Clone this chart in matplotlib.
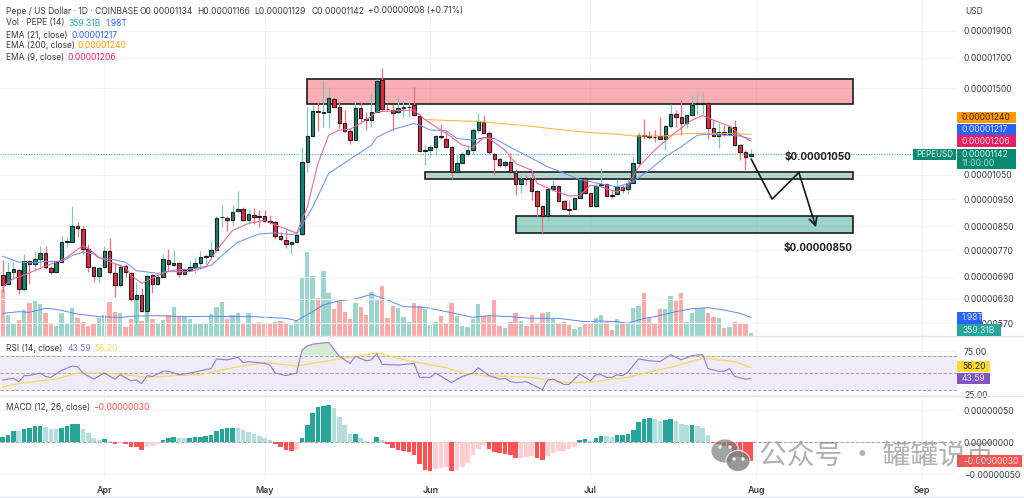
import matplotlib
matplotlib.use('Agg')
import numpy as np
import matplotlib.pyplot as plt
from matplotlib.patches import Rectangle, Ellipse

plt.rcParams['font.family'] = ['Inter', 'DejaVu Sans']

# prices are in units of 0.00000001 USD, one row per day from Mar 13
opens = [694,669,703,710,656,736,726,743,760,715,703,732,796,798,850,840,775,718,692,718,769,701,668,721,701,631,641,600,695,670,691,740,724,731,698,710,720,731,750,751,771,881,880,872,903,913,871,891,886,885,870,865,815,804,790,796,822,1108,1234,1365,1356,1360,1437,1388,1301,1258,1214,1382,1323,1318,1360,1548,1378,1372,1358,1380,1385,1399,1340,1159,1162,1178,1232,1219,1178,1063,1103,1146,1165,1265,1306,1246,1146,1119,1092,1108,1059,1011,1033,1030,981,925,885,991,1001,944,913,914,956,1037,973,922,1006,1010,966,969,999,989,1016,1100,1238,1232,1228,1230,1217,1283,1351,1333,1297,1342,1407,1407,1411,1271,1233,1252,1240,1276,1188,1151,1134]
highs = [740,733,735,712,758,738,769,782,785,723,738,815,813,923,866,850,790,723,718,785,809,731,728,728,703,675,660,698,698,694,758,775,771,733,715,738,746,769,758,801,888,926,888,928,981,919,913,915,910,907,889,870,829,835,801,829,1175,1389,1399,1417,1545,1508,1441,1417,1370,1271,1417,1417,1360,1461,1554,1626,1407,1399,1447,1431,1417,1508,1351,1186,1186,1236,1292,1262,1182,1146,1154,1186,1271,1356,1342,1256,1149,1124,1115,1149,1074,1048,1048,1056,985,926,992,1027,1006,945,945,959,1045,1041,975,1016,1078,1014,985,1030,1006,1034,1131,1253,1323,1258,1265,1333,1288,1403,1370,1431,1344,1458,1463,1471,1417,1315,1297,1288,1288,1315,1194,1162,1166]
lows = [648,666,680,644,652,671,709,718,712,698,700,730,780,796,813,758,703,675,675,715,698,636,662,689,626,568,597,576,646,666,689,708,723,689,694,708,700,712,728,748,764,846,833,852,901,870,856,858,846,864,858,807,801,777,758,793,821,1063,1232,1256,1279,1271,1385,1271,1253,1194,1211,1297,1262,1279,1358,1372,1372,1258,1351,1333,1333,1336,1154,1092,1131,1138,1219,1175,1034,1060,1100,1134,1143,1246,1242,1146,1048,1085,1078,1056,965,975,1006,945,888,827,865,985,939,909,891,912,954,970,919,919,999,962,956,965,973,970,1014,1088,1219,1219,1203,1216,1162,1271,1279,1236,1271,1336,1342,1351,1219,1232,1170,1232,1232,1184,1115,1070,1129]
closes = [666,703,712,656,736,726,742,762,718,703,732,796,800,850,843,775,718,692,715,768,703,668,720,703,631,641,600,693,670,691,742,726,731,698,710,720,731,748,752,771,878,883,871,902,913,873,894,881,882,870,865,815,805,790,798,821,1108,1234,1366,1359,1360,1441,1389,1301,1258,1214,1382,1327,1315,1360,1545,1378,1375,1356,1380,1385,1389,1342,1160,1162,1176,1232,1225,1178,1063,1103,1146,1165,1262,1309,1245,1151,1122,1094,1108,1060,1011,1031,1030,982,925,885,989,1001,944,913,910,953,1036,973,922,1002,1010,964,963,999,987,1016,1100,1238,1233,1225,1225,1219,1281,1351,1333,1297,1342,1401,1411,1411,1271,1233,1252,1241,1276,1188,1151,1131,1142]
# volume in billions
volumes = [4956,2195,1345,1699,2761,3540,3717,3363,2407,1239,1097,2407,1416,2938,1876,1522,1097,1239,1876,2230,3646,2549,2407,991,1770,4000,1593,3115,1770,1416,1699,2230,3044,1982,2053,1770,1274,1274,1345,2336,3044,3646,1805,2230,2407,1345,2407,1416,1522,1345,1416,1522,1593,1345,1168,1628,6195,8885,6372,4000,6938,4531,2867,3752,2584,1770,3540,3044,2266,4637,3929,5310,1947,3186,2938,1982,1451,3469,3221,2867,1168,1451,2124,1345,3469,2124,1062,991,1805,3434,2124,2159,3823,1062,814,1522,2407,1628,1097,2230,1345,2407,2513,1770,1274,1451,1168,743,991,1239,1239,1876,2230,1522,637,1770,1345,1345,3009,3221,4531,1876,1345,2832,2832,4248,3752,4531,1522,2407,2832,2938,2478,2053,1876,885,991,1522,1239,1239,359]

ema21_days = [0,3,6,8,11,13,15,17,18,21,23,25,29,32,35,39,41,44,48,51,54,55,58,61,65,69,70,73,77,78,80,83,85,88,90,92,96,99,102,104,108,112,115,118,121,124,127,130,132,135,138,140]
ema21 = [751,733,731,735,735,753,764,758,746,740,733,708,700,709,712,723,753,796,823,827,821,823,919,1056,1119,1186,1225,1265,1297,1288,1262,1258,1219,1211,1223,1219,1162,1124,1085,1067,1030,1011,999,1021,1070,1131,1178,1236,1241,1236,1232,1217]
ema9_days = [0,2,3,6,8,10,12,15,16,18,21,23,24,26,29,31,35,38,40,43,46,49,53,55,57,59,61,63,65,68,70,73,77,79,82,83,86,88,90,91,94,96,99,100,103,106,108,110,112,115,117,119,122,126,129,131,133,136,138,140]
ema9 = [662,686,689,708,721,733,748,785,775,748,728,718,694,672,694,705,705,718,769,835,860,870,840,826,919,1100,1236,1262,1266,1315,1360,1366,1370,1318,1262,1246,1186,1175,1225,1219,1162,1100,1070,1014,985,962,965,1006,999,978,1006,1085,1162,1253,1315,1340,1315,1283,1236,1206]
ema200_days = [79,84,89,93,98,104,110,115,118,124,127,132,137,140]
ema200 = [1318,1312,1308,1297,1285,1265,1249,1241,1232,1232,1243,1246,1243,1240]
vol_ma_days = [0,3,5,8,10,14,18,22,25,29,34,39,47,53,55,58,60,63,66,69,72,75,79,83,88,91,95,99,104,109,112,115,117,120,122,126,129,132,135,138,140]
vol_ma = [2407,2584,2513,2938,2832,2336,2053,1982,2124,2159,2053,2089,2053,1876,1628,2584,3292,3752,3929,4425,3823,3115,3044,2584,1982,2159,2053,1876,1876,1522,1593,1522,1345,1876,2053,2584,2903,3009,2761,2407,1980]

rsi_days = [0,1,2,3,4,5,7,8,9,11,13,14,15,17,19,21,22,24,25,26,27,28,30,31,33,36,38,39,40,42,44,45,46,49,50,51,53,55,56,57,58,61,63,65,66,68,69,70,71,74,77,78,80,81,84,86,88,89,91,93,94,95,96,98,100,101,102,103,105,106,108,110,111,112,113,114,115,116,117,119,121,123,125,127,129,131,132,134,135,136,137,139,140]
rsi = [42,43,44,40,47,47,50,46,45,53,58,57,50,43,50,43,48,41,42,38,47,46,52,52,48,51,54,55,66,65,68,62,63,61,59,50,47,50,76,81,83,85,69,61,69,64,65,72,60,59,61,45,45,50,39,46,50,56,47,43,44,40,39,40,34,31,42,43,37,37,49,41,48,48,45,45,48,47,51,66,64,63,71,65,70,71,55,52,52,55,46,43,43.59]
rsi_ma_days = [0,3,10,14,19,23,27,32,37,43,49,55,60,65,70,76,83,86,90,95,99,104,107,111,114,117,121,126,131,137,140]
rsi_ma = [34,38,43,50,50,48,45,47,48,56,62,58,63,68,73,64,56,50,47,46,45,40,39,40,43,45,51,58,67,63,56.2]

macd_hist = [8,11,18,17,21,23,25,26,24,21,20,23,25,28,28.5,20,15,7,4,5,2,-3,-1,-2,-7,-8,-12,-7,-6,-2,3,6,8,7,6.8,7.2,7.5,9,10,11,18,21,22,23,22,19,16,13,10,6,3,-3,-7,-12,-13,-12,7,27,46,55,56,58,54,40,27,13,13.5,7,2,0.5,9,3,-2,-9,-12,-14,-15,-20,-34,-43,-45,-41,-40,-39,-45,-43,-39,-32,-20,-10,-5,-10,-15,-17,-19,-20,-24.5,-24,-23,-22,-25,-28,-21,-16,-14,-13,-11,-7,3,5,2,7,10,9.5,9,11,11.5,13,19,31,36,38,36,34,34.5,36,34,29,27,27.5,26,23,11,-1,-2,-6,-9,-17,-23,-26,-30]

price_ticks = [1900,1700,1500,1050,950,850,770,690,630,570]
month_days = [19,49,80,110,141,172]
month_names = ['Apr','May','Jun','Jul','Aug','Sep']
last_price = 1142

W, H = 1024, 498
AXIS_X = 957
GREEN = '#0b8a72'
RED = '#e9283f'
TEXT = '#3a3d45'


def pane(top, bottom, **kw):
    return fig.add_axes([0, 1 - bottom / H, AXIS_X / W, (bottom - top) / H], **kw)


def label(x, y, s, color=TEXT, size=6.1, **kw):
    fig.text(x / W, 1 - y / H, s, color=color, fontsize=size, va='center', zorder=11, **kw)


def box(y, color, x0, x1, h):
    fig.add_artist(Rectangle((x0 / W, 1 - (y + h / 2) / H), (x1 - x0) / W, h / H, transform=fig.transFigure,
                             facecolor=color, edgecolor='none', zorder=10))


def tag(y, s, color, text_color='white', x1=1016, x0=AXIS_X, h=11.5):
    box(y, color, x0, x1, h)
    label(x0 + 5, y, s, color=text_color)


fig = plt.figure(figsize=(W / 100, H / 100), dpi=100)
days = np.arange(len(closes))
opens = np.array(opens, float)
closes = np.array(closes, float)
up = closes >= opens
xlim = (-0.516, 178.6)

# volume sits behind the candles
ax_vol = pane(0, 336)
ax_vol.set_zorder(0)
ax_vol.bar(days, volumes, width=0.82, color=['#9bd5cb' if u else '#f9aaa9' for u in up])
ax_vol.plot(vol_ma_days, vol_ma, color='#5b86f5', lw=0.7)
ax_vol.set_xlim(xlim)
ax_vol.set_ylim(0, 35683)
ax_vol.axis('off')

ax = pane(0, 336)
ax.set_zorder(1)
ax.patch.set_visible(False)
ax.set_yscale('log')
ax.set_xlim(xlim)
ax.set_ylim(541, 2155)
ax.yaxis.tick_right()
ax.set_yticks(price_ticks)
ax.set_yticklabels(['%.8f' % (p / 1e8) for p in price_ticks])
ax.minorticks_off()
ax.set_xticks(month_days)
ax.set_xticklabels([])

# supply / demand boxes
for x0, x1, p0, p1, col in [(56.9, 159.1, 1404, 1557, (0.95, 0.2, 0.27, 0.4)),
                            (79, 159.1, 1032, 1060, (0.1, 0.55, 0.45, 0.33)),
                            (96, 159.1, 827, 886, (0.1, 0.6, 0.5, 0.43))]:
    ax.add_patch(Rectangle((x0, p0), x1 - x0, p1 - p0, facecolor=col, edgecolor='#1c1c1c', lw=1.2, zorder=1.5))

ax.axhline(last_price, color='#26a69a', ls=':', lw=0.7, zorder=1)
ax.vlines(days, lows, highs, colors=['#7cc8bb' if u else '#f06e7c' for u in up], lw=0.9, zorder=2)
ax.bar(days, np.abs(closes - opens), bottom=np.minimum(opens, closes), width=0.66,
       color=[GREEN if u else RED for u in up], edgecolor='#222222', lw=0.8, zorder=3)
ax.plot(ema200_days, ema200, color='#ffb13d', lw=0.75, zorder=4)
ax.plot(ema21_days, ema21, color='#6c93f6', lw=0.75, zorder=4)
ax.plot(ema9_days, ema9, color='#f2608f', lw=0.75, zorder=4)

# projected path
ax.plot([140.1, 144, 149], [1119, 950, 1060], color='#161616', lw=1.2, zorder=5)
ax.annotate('', xy=(152.2, 846), xytext=(149, 1060), zorder=5,
            arrowprops=dict(arrowstyle='->', color='#161616', lw=1.2, mutation_scale=14, shrinkA=0, shrinkB=0))
ax.text(818 / AXIS_X, 1 - 157 / 336, '$0.00001050', transform=ax.transAxes, ha='center', va='center',
        fontsize=7.1, fontweight='bold', color='#1c1c1c', zorder=6)
ax.text(818 / AXIS_X, 1 - 248 / 336, '$0.00000850', transform=ax.transAxes, ha='center', va='center',
        fontsize=7.1, fontweight='bold', color='#1c1c1c', zorder=6)

# RSI
ax_rsi = pane(336, 396)
ax_rsi.axhspan(30, 70, color='#efecf8', lw=0)
for lvl in [70, 50, 30]:
    ax_rsi.axhline(lvl, color='#a5a5aa', ls='--', lw=0.7)
ax_rsi.plot(rsi_ma_days, rsi_ma, color='#fbd85c', lw=0.9)
ax_rsi.plot(rsi_days, rsi, color='#9478d4', lw=0.8)
ax_rsi.fill_between(rsi_days, 70, rsi, where=np.array(rsi) >= 70, interpolate=True, color='#d3ecd3', lw=0)
ax_rsi.set_xlim(xlim)
ax_rsi.set_ylim(23.7, 92.3)
ax_rsi.yaxis.tick_right()
ax_rsi.set_yticks([75, 25])
ax_rsi.set_yticklabels(['75.00', '25.00'])
ax_rsi.set_xticks(month_days)
ax_rsi.set_xticklabels([])

# MACD histogram, shade follows whether the bar grew or shrank
ax_macd = pane(396, 478)
macd_colors = []
prev = 0
for v in macd_hist:
    if v >= 0:
        macd_colors.append('#26a69a' if v >= prev else '#b2dfdb')
    else:
        macd_colors.append('#ff5252' if v < prev else '#ffcdd2')
    prev = v
ax_macd.axhline(0, color='#a5a5aa', ls='--', lw=0.7, zorder=1)
ax_macd.bar(days, macd_hist, width=0.86, color=macd_colors, zorder=2)
ax_macd.set_xlim(xlim)
ax_macd.set_ylim(-55.8, 72.3)
ax_macd.yaxis.tick_right()
ax_macd.set_yticks([50, 0, -50])
ax_macd.set_yticklabels(['0.00000050', '0.00000000', '\u22120.00000050'])
ax_macd.set_xticks(month_days)
ax_macd.set_xticklabels(month_names, fontsize=6.4, fontweight='semibold', color=TEXT)

for a in (ax, ax_rsi, ax_macd):
    for s in a.spines.values():
        s.set_visible(False)
    a.grid(True, color='#f3f4f6', lw=0.8)
    a.set_axisbelow(True)
    a.tick_params(axis='both', length=0, labelsize=6.2, labelcolor=TEXT, pad=5)
ax_macd.tick_params(axis='x', pad=5.5, labelsize=6.4)

# pane separators
for y in [336, 396, 497]:
    fig.add_artist(plt.Line2D([0, 1], [1 - y / H] * 2, color='#e2e4e9', lw=1, zorder=5))

# legends
label(6, 11, 'Pepe / US Dollar \u00b7 1D \u00b7 COINBASE')
for x, s in zip([140, 197, 254, 311, 368],
                ['O0.00001134', 'H0.00001166', 'L0.00001129', 'C0.00001142', '+0.00000008 (+0.71%)']):
    label(x, 11, s)
label(6, 23, 'Vol \u00b7 PEPE (14)')
label(68, 23, '359.31B', color='#26a69a')
label(106, 23, '1.98T', color='#2962ff')
label(6, 35, 'EMA (21, close)')
label(71, 35, '0.00001217', color='#2962ff')
label(6, 46, 'EMA (200, close)')
label(78, 46, '0.00001240', color='#ff9800')
label(6, 58, 'EMA (9, close)')
label(68, 58, '0.00001206', color='#e91e63')
label(6, 348, 'RSI (14, close)')
label(67, 348, '43.59', color='#8e6fcf')
label(94, 348, '56.20', color='#fbd85c')
label(6, 407, 'MACD (12, 26, close)')
label(93, 407, '\u22120.00000030', color='#ff5252')
label(965, 11, 'USD')

# axis tags
tag(117.7, '0.00001240', '#ff9800', text_color='#2a2a2a')
tag(129.5, '0.00001217', '#2962ff', text_color='#dfe6ff')
tag(141, '0.00001206', '#e91e63', text_color='#ffdbe8')
box(159, GREEN, AXIS_X, 1016, 20)
label(962, 154.5, '0.00001142', color='#d8f2ec')
label(962, 164, '11:00:00', color='#a8dcd0')
box(154.5, GREEN, 913, 956, 11)
label(916, 154.5, 'PEPEUSD', color='#d8f2ec', size=5.8)
tag(318, '1.98T', '#2962ff', text_color='#dfe6ff', x1=982)
tag(330, '359.31B', '#26a69a', text_color='#e3f5f2', x1=1001)
tag(366.7, '56.20', '#fdd835', text_color='#2a2a2a', x1=990)
tag(378.5, '43.59', '#7e57c2', text_color='#ebe4fa', x1=990)
tag(461, '\u22120.00000030', '#ff5252', text_color='#ffe5e5', x1=1022)

# watermark
wm = '#7d7d7d'
for x, y, w, h, a in [(725, 451, 28, 24, 0.7), (738, 461, 24, 21, 0.8)]:
    fig.add_artist(Ellipse((x / W, 1 - y / H), w / W, h / H, transform=fig.transFigure,
                           facecolor=wm, edgecolor='white', lw=0.8, alpha=a, zorder=19))
for x, y in [(720, 447), (730, 447), (734, 459), (743, 459)]:
    fig.add_artist(Ellipse((x / W, 1 - y / H), 3.5 / W, 3.5 / H, transform=fig.transFigure,
                           facecolor='white', edgecolor='none', alpha=0.9, zorder=19.5))
fig.text(759 / W, 1 - 457 / H, '\u516c\u4f17\u53f7 \u00b7 \u7f50\u7f50\u8bf4\u5e01', color=wm, alpha=0.6, fontsize=20,
         family=['Noto Sans CJK SC', 'DejaVu Sans'], va='center', zorder=20)

fig.savefig('out.png', dpi=100)
